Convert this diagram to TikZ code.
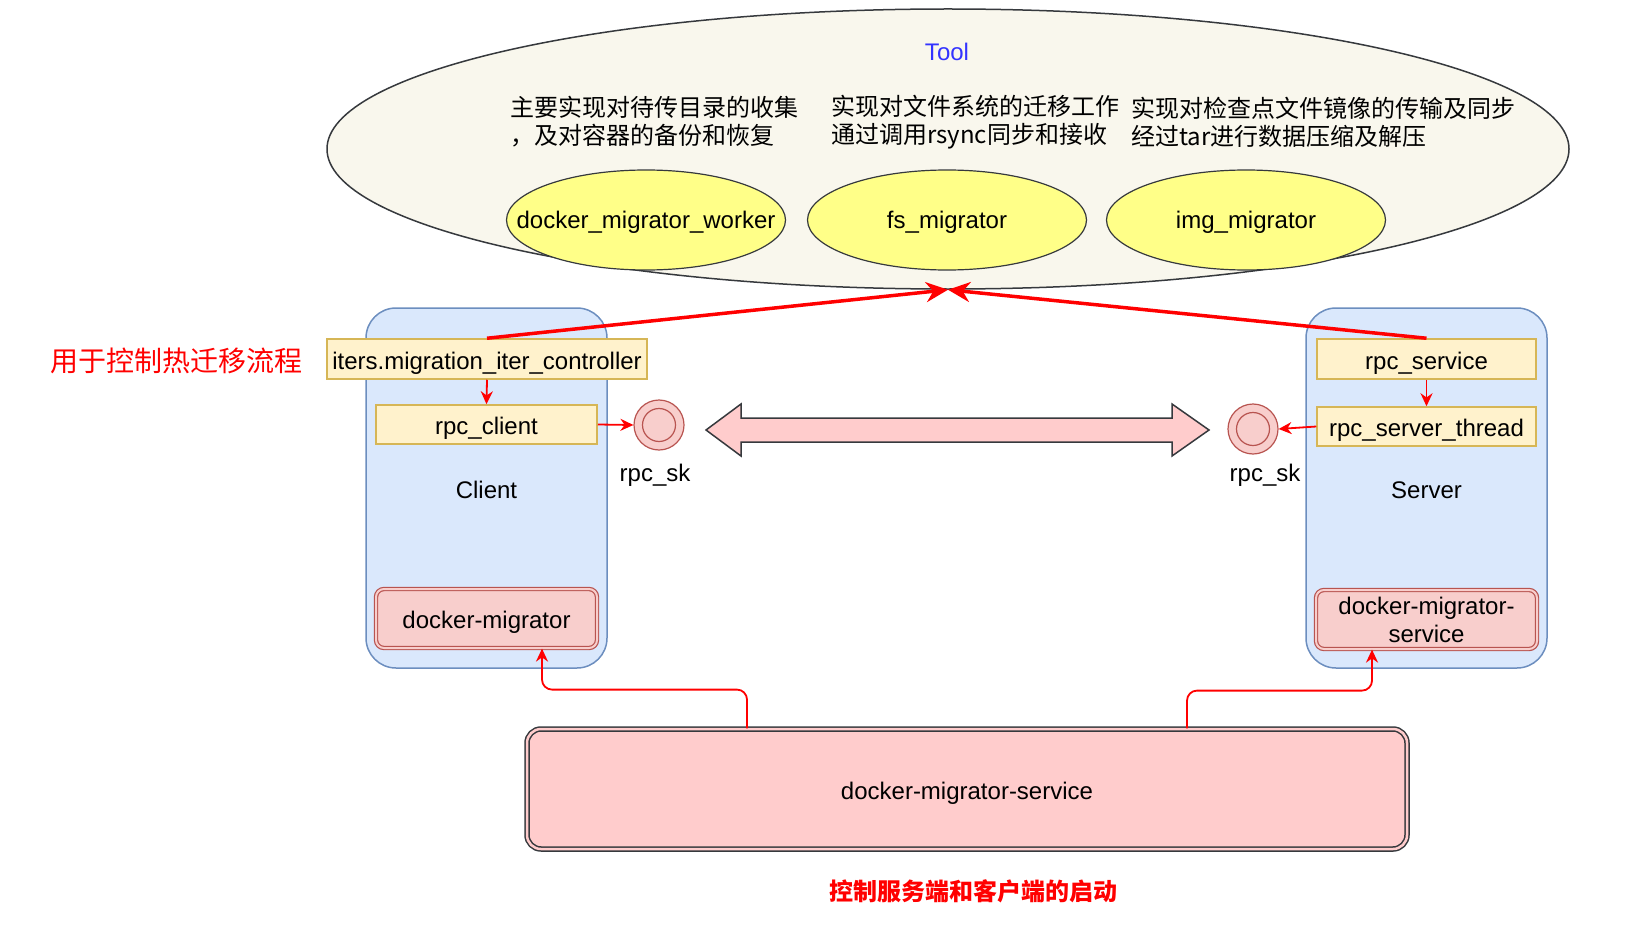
\documentclass[tikz,border=0pt]{standalone}
\usepackage{fontspec}
\setmainfont{Liberation Sans}
\newfontfamily\cjk{Noto Sans CJK SC}
\usepackage{tikz}
\usetikzlibrary{shapes.geometric,arrows.meta,calc}

\definecolor{toolfill}{HTML}{F9F7ED}
\definecolor{darkline}{HTML}{36393D}
\definecolor{workerfill}{HTML}{FFFF88}
\definecolor{hostfill}{HTML}{DAE8FC}
\definecolor{hostline}{HTML}{6C8EBF}
\definecolor{modfill}{HTML}{FFF2CC}
\definecolor{modline}{HTML}{D6B656}
\definecolor{procfill}{HTML}{F8CECC}
\definecolor{procline}{HTML}{B85450}
\definecolor{pipefill}{HTML}{FFCCCC}
\definecolor{toolblue}{HTML}{3333FF}
\definecolor{flowred}{HTML}{FF0000}

\begin{document}
\begin{tikzpicture}[x=1pt,y=1pt,yscale=-1,xscale=1,
  every node/.style={font=\fontsize{24}{28}\selectfont},
  oneline/.style={text height=22pt,text depth=2pt},
  desc/.style={anchor=west,align=left,inner sep=0pt,font=\cjk\fontsize{24}{28}\selectfont},
  worker/.style={ellipse,draw=darkline,fill=workerfill,line width=1.2pt,minimum width=279,minimum height=100,inner sep=0pt},
  host/.style={oneline,draw=hostline,fill=hostfill,line width=1.5pt,rounded corners=30pt,minimum width=241,minimum height=360},
  module/.style={oneline,draw=modline,fill=modfill,line width=1.5pt,minimum height=40,inner sep=0pt},
  proc/.style={draw=procline,double=procfill,double distance=2pt,line width=1.2pt,fill=procfill,rounded corners=8pt,minimum width=221,minimum height=59,inner sep=0pt,align=center},
  socket/.style={circle,draw=procline,line width=1.2pt,inner sep=0pt},
  call/.style={draw=flowred,line width=1.8pt,-{Stealth[length=13pt,width=12pt]}},
  report/.style={draw=flowred,line width=3.5pt,-{Stealth[length=22pt,width=20pt]}}
]
\useasboundingbox (0,0) rectangle (1632,952);

%Shape: Ellipse
\node[ellipse,draw=darkline,fill=toolfill,line width=1.5pt,minimum width=1242,minimum height=280,inner sep=0pt] (tool) at (948,149) {};
% Text Node
\node[oneline,text=toolblue] (toolname) at (947,51) {Tool};
% Text Node
\node[desc] (noteworker) at (510,122) {主要实现对待传目录的收集\\，及对容器的备份和恢复};
% Text Node
\node[desc] (notefs) at (831,122) {实现对文件系统的迁移工作\\通过调用rsync同步和接收};
% Text Node
\node[desc] (noteimg) at (1131,122) {实现对检查点文件镜像的传输及同步\\经过tar进行数据压缩及解压};

%Shape: Ellipse
\node[worker,label={[oneline,yshift=2pt]center:docker\_migrator\_worker}] (worker) at (646,220) {};
\node[worker,label={[oneline,yshift=2pt]center:fs\_migrator}] (fsmig) at (947,220) {};
\node[worker,label={[oneline,yshift=2pt]center:img\_migrator}] (imgmig) at (1246,220) {};

%Shape: Rounded Rect
\node[host] (client) at (486.5,488) {Client};
\node[host] (server) at (1426.5,488) {Server};

%Shape: Rectangle
\node[module,minimum width=320] (iters) at (487,359) {iters.migration\_iter\_controller};
\node[module,minimum width=221,minimum height=39] (rpcclient) at (486.5,424.5) {rpc\_client};
\node[module,minimum width=219] (rpcservice) at (1426.5,359) {rpc\_service};
\node[module,minimum width=219,minimum height=39] (rpcthread) at (1426.5,426.5) {rpc\_server\_thread};

%Shape: Double Rounded Rect
\node[proc,oneline] (dm) at (486.5,618.5) {docker-migrator};
\node[proc] (dms) at (1426.5,619.5) {docker-migrator-\\service};

%Shape: Circle
\node[socket,fill=procfill,minimum size=50] (sockl) at (659,425) {};
\node[socket,minimum size=33] (sockl-in) at (sockl) {};
\node[socket,fill=procfill,minimum size=50] (sockr) at (1253,429) {};
\node[socket,minimum size=33] (sockr-in) at (sockr) {};
% Text Node
\node[oneline] (sockl-lbl) at (655,471) {rpc\_sk};
\node[oneline] (sockr-lbl) at (1265,471) {rpc\_sk};

%Shape: Double Arrow
\draw[draw=darkline,fill=pipefill,line width=1.5pt,line join=miter]
  (706,430) -- (741,404) -- (741,418) -- (1172,418) -- (1172,404) -- (1209,430)
  -- (1172,456) -- (1172,442) -- (741,442) -- (741,456) -- cycle;

%Shape: Double Rounded Rect
\node[oneline,draw=darkline,double=pipefill,double distance=2.5pt,line width=1.5pt,fill=pipefill,rounded corners=14pt,minimum width=880,minimum height=120,inner sep=0pt] (bottom) at (967,789) {docker-migrator-service};

% Text Node
\node[text=flowred,font=\cjk\fontsize{28}{32}\selectfont] (hotnote) at (176,361) {用于控制热迁移流程};
% Text Node
\node[text=flowred,font=\cjk\bfseries\fontsize{24}{28}\selectfont] (startnote) at (973,891) {控制服务端和客户端的启动};

%Straight Lines
\draw[report] (iters.north) -- (tool.south);
\draw[report] (rpcservice.north) -- (tool.south);
\draw[call] (iters.south) -- (rpcclient.north);
\draw[call] (rpcclient.east) -- (sockl.west);
\draw[call] (rpcservice.south) -- (rpcthread.north);
\draw[call] (rpcthread.west) -- (sockr.east);

%Connector
\draw[call,rounded corners=10pt] ($(bottom.north)+(-220,0)$) |- ($(dm.south)+(55.5,41)$) -- ($(dm.south)+(55.5,0)$);
\draw[call,rounded corners=10pt] ($(bottom.north)+(220,0)$) |- ($(dms.south)+(-54.5,41)$) -- ($(dms.south)+(-54.5,0)$);

\end{tikzpicture}
\end{document}
